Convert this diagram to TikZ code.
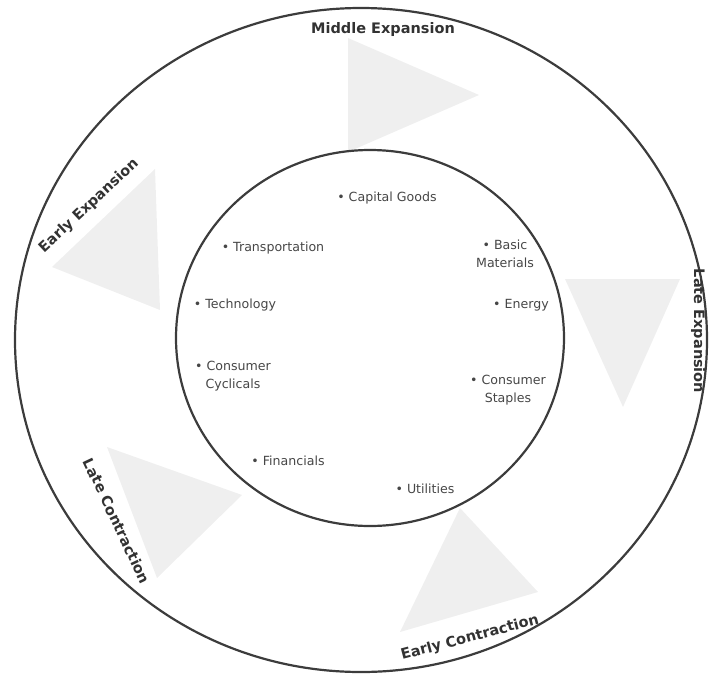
\documentclass[tikz,border=0pt]{standalone}
\usepackage{fontspec}
\setmainfont{DejaVu Sans}
\begin{document}
\definecolor{ringline}{RGB}{60,60,60}
\definecolor{arrowfill}{RGB}{239,239,239}
\definecolor{labeltext}{RGB}{50,50,50}
\definecolor{sectortext}{RGB}{70,70,70}
\begin{tikzpicture}[x=1pt,y=-1pt,
  ring/.style={draw=ringline,line width=2.2pt},
  phasearrow/.style={fill=arrowfill,draw=none},
  phase/.style={font=\bfseries\fontsize{14.5}{16}\selectfont,text=labeltext,inner sep=0pt},
  sector/.style={font=\fontsize{12.6}{18}\selectfont,text=sectortext,inner sep=0pt,align=center}]
  \useasboundingbox (0,0) rectangle (718,675);

  % cycle arrows between the rings
  \fill[phasearrow] (348,38) -- (479,95) -- (348,152) -- cycle;
  \fill[phasearrow] (155,169) -- (52,267) -- (160,310) -- cycle;
  \fill[phasearrow] (565,279) -- (680,279) -- (623,407) -- cycle;
  \fill[phasearrow] (107,447) -- (242,495) -- (157,578) -- cycle;
  \fill[phasearrow] (460,508) -- (538,592) -- (400,632) -- cycle;

  % outer and inner rings
  \draw[ring] (361,340) ellipse [x radius=346, y radius=332];
  \draw[ring] (370,338) ellipse [x radius=194, y radius=188];

  % phases of the cycle
  \node[phase] (midexp) at (383,29) {Middle Expansion};
  \node[phase,rotate=43] (earlyexp) at (89,206) {Early Expansion};
  \node[phase,rotate=-90] (lateexp) at (698,331) {Late Expansion};
  \node[phase,rotate=-64.7] (latecon) at (117,521) {Late Contraction};
  \node[phase,rotate=14.8] (earlycon) at (470,638) {Early Contraction};

  % sectors
  \node[sector] (capital) at (387,198) {• Capital Goods};
  \node[sector] (transport) at (273,248) {• Transportation};
  \node[sector] (basic) at (505,254) {• Basic\\Materials};
  \node[sector] (tech) at (235,305) {• Technology};
  \node[sector] (energy) at (521,305) {• Energy};
  \node[sector] (cyclicals) at (233,376) {• Consumer\\Cyclicals};
  \node[sector] (staples) at (508,390) {• Consumer\\Staples};
  \node[sector] (financials) at (288,461) {• Financials};
  \node[sector] (utilities) at (425,489) {• Utilities};
\end{tikzpicture}
\end{document}
